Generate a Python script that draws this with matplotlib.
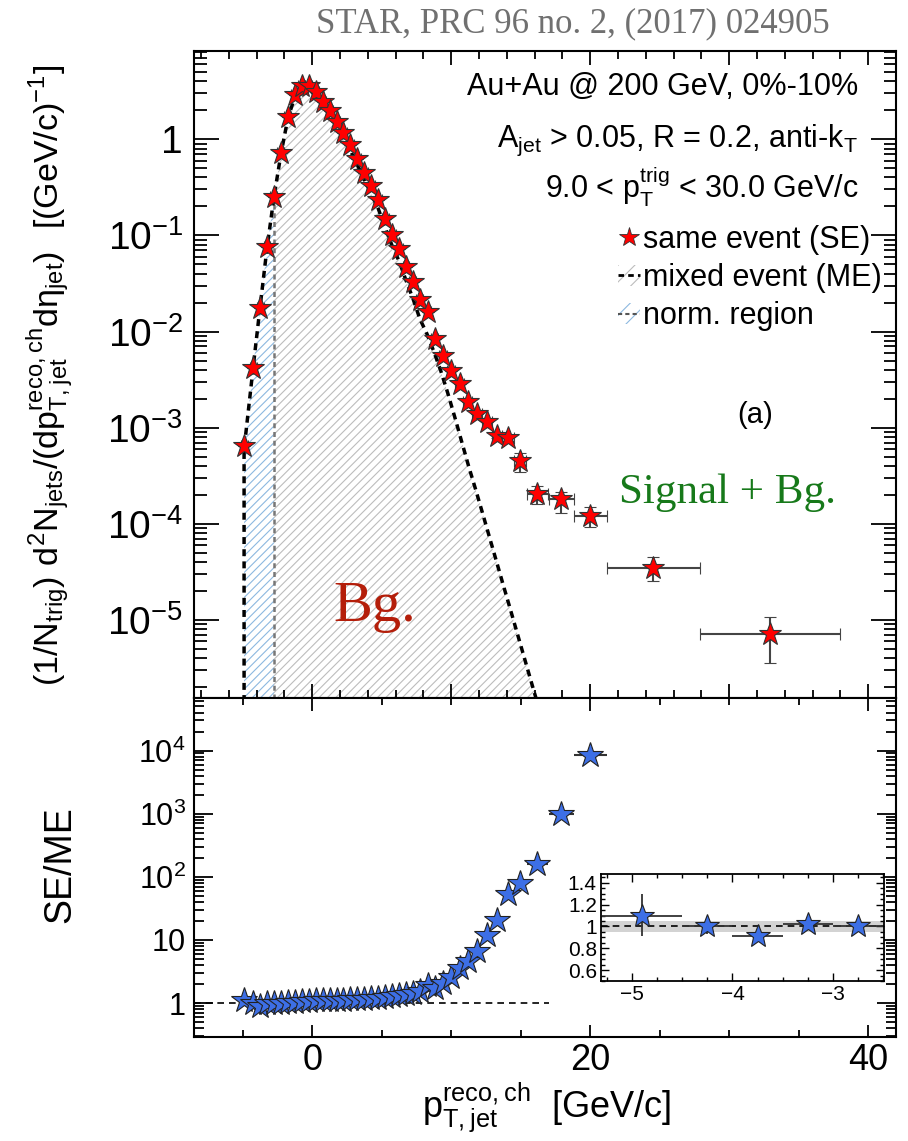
import matplotlib
matplotlib.use("Agg")
import matplotlib.pyplot as plt
import numpy as np
from matplotlib.lines import Line2D
from matplotlib.patches import Patch
from matplotlib.ticker import MultipleLocator, LogLocator, NullFormatter

plt.rcParams['font.family'] = ['Liberation Sans', 'DejaVu Sans']
plt.rcParams['mathtext.default'] = 'regular'
plt.rcParams['hatch.linewidth'] = 0.8

# same event (SE) spectrum
se_x = [-4.9, -4.25, -3.75, -3.25, -2.75, -2.25, -1.75, -1.25, -0.75, -0.25,
        0.25, 0.75, 1.25, 1.75, 2.25, 2.75, 3.25, 3.75, 4.25, 4.75,
        5.25, 5.75, 6.25, 6.75, 7.25, 7.75, 8.3, 8.8, 9.4, 10.0,
        10.6, 11.2, 11.85, 12.55, 13.3, 14.1, 14.95, 16.2, 17.9, 20.0,
        24.55, 32.95]
se_y = [6.5e-4, 4.2e-3, 0.0176, 0.0757, 0.25, 0.72, 1.71, 2.87, 3.56, 3.6,
        3.1, 2.45, 1.97, 1.52, 1.15, 0.866, 0.62, 0.446, 0.324, 0.232,
        0.149, 0.102, 0.073, 0.047, 0.0327, 0.0214, 0.0159, 0.0084, 0.0056, 0.0039,
        0.00285, 0.00184, 0.00139, 0.00114, 8.3e-4, 7.8e-4, 4.5e-4, 2.07e-4, 1.8e-4, 1.21e-4,
        3.5e-5, 7.1e-6]
se_xerr = [0.25, 0.25, 0.25, 0.25, 0.25, 0.25, 0.25, 0.25, 0.25, 0.25,
           0.25, 0.25, 0.25, 0.25, 0.25, 0.25, 0.25, 0.25, 0.25, 0.25,
           0.25, 0.25, 0.25, 0.25, 0.25, 0.25, 0.28, 0.28, 0.3, 0.3,
           0.3, 0.32, 0.33, 0.36, 0.38, 0.42, 0.45, 0.78, 0.9, 1.2,
           3.35, 5.05]
se_ylo = [0, 0, 0, 0, 0, 0, 0, 0, 0, 0,
          0, 0, 0, 0, 0, 0, 0, 0, 0, 0,
          0, 0, 0, 0, 0, 0, 0, 0, 0, 0,
          0, 0, 0, 0, 5e-5, 6e-5, 1.0e-4, 4.7e-5, 4.9e-5, 2.9e-5,
          9.5e-6, 3.55e-6]
se_yhi = [0, 0, 0, 0, 0, 0, 0, 0, 0, 0,
          0, 0, 0, 0, 0, 0, 0, 0, 0, 0,
          0, 0, 0, 0, 0, 0, 0, 0, 0, 0,
          0, 0, 0, 0, 5e-5, 6e-5, 1.0e-4, 4.2e-5, 3.5e-5, 2.9e-5,
          1.03e-5, 3.7e-6]

# mixed event (ME) distribution
me_x = [-4.9, -4.25, -3.75, -3.25, -2.75, -2.25, -1.75, -1.25, -0.75, -0.25,
        0.25, 0.75, 1.25, 1.75, 2.25, 2.75, 3.25, 3.75, 4.25, 4.75,
        5.25, 5.75, 6.25, 6.75, 7.25, 7.75, 8.25, 8.75, 9.25, 9.75,
        10.25, 10.75, 11.25, 11.75, 12.25, 12.75, 13.25, 13.75, 14.25, 14.75,
        15.25, 15.75, 16.25]
me_y = [6.0e-4, 4.2e-3, 0.018, 0.074, 0.25, 0.70, 1.65, 2.75, 3.4, 3.35,
        2.8, 2.25, 1.78, 1.36, 1.02, 0.76, 0.54, 0.38, 0.27, 0.19,
        0.12, 0.078, 0.054, 0.034, 0.022, 0.0135, 0.0095, 0.0062, 0.0039, 0.0023,
        0.0013, 7.2e-4, 4.0e-4, 2.3e-4, 1.3e-4, 7.3e-5, 4.1e-5, 2.3e-5, 1.3e-5, 7.3e-6,
        4.1e-6, 2.3e-6, 1.3e-6]

# SE/ME ratio
ratio_x = se_x[:40]
ratio_y = [1.12, 1.0, 0.9, 1.02, 1.0, 1.02, 1.04, 1.06, 1.07, 1.08,
           1.1, 1.1, 1.12, 1.13, 1.13, 1.15, 1.16, 1.18, 1.2, 1.22,
           1.25, 1.3, 1.35, 1.4, 1.45, 1.55, 1.94, 1.72, 2.06, 2.63,
           3.57, 4.56, 6.75, 12.1, 21.0, 52.7, 81.0, 159.0, 1000.0, 8600.0]
ratio_xerr = se_xerr[:40]

# inset: normalisation region zoom
inset_x = [-4.9, -4.25, -3.75, -3.25, -2.75]
inset_y = [1.1, 1.0, 0.91, 1.02, 1.0]
inset_xerr = [0.4, 0.25, 0.25, 0.25, 0.25]
inset_ylo = [0.19, 0.07, 0.03, 0.04, 0.03]
inset_yhi = [0.2, 0.09, 0.03, 0.04, 0.03]

norm_hi = -2.75
y_floor = 1.55e-6

red = '#ff0000'
blue = '#3d6fe6'
hgray = '#bdbdbd'
hblue = '#8db8e0'
edge = '#333333'
dash = (0, (2.0, 1.5))

fig = plt.figure(figsize=(9.08, 11.41), dpi=100)
ax = fig.add_axes([0.2137, 0.3883, 0.7731, 0.567])
ax2 = fig.add_axes([0.2137, 0.0911, 0.7731, 0.2972])

# ---- top panel ----
mx = np.array(me_x)
my = np.array(me_y)
ax.fill_between(mx, my, 1e-8, where=mx >= norm_hi, facecolor='none',
                edgecolor=hgray, hatch='////', linewidth=0)
ax.fill_between(mx, my, 1e-8, where=mx <= norm_hi, facecolor='none',
                edgecolor=hblue, hatch='////', linewidth=0)
ax.vlines(norm_hi, 1e-8, my[mx == norm_hi][0], colors='#777777',
          linestyles=dash, linewidth=1.8)
ax.plot(np.r_[mx[0], mx], np.r_[1e-8, my], color='black', ls=dash, lw=2.5)

ax.errorbar(se_x, se_y, xerr=se_xerr, yerr=[se_ylo, se_yhi], fmt='*',
            ms=17, mfc=red, mec=edge, mew=0.8, ecolor='#444444',
            elinewidth=1.5, capsize=4, capthick=1.5)

ax.set_yscale('log')
ax.set_xlim(-8.5, 42)
ax.set_ylim(y_floor, 8.26)
ax.set_yticks([1e-5, 1e-4, 1e-3, 1e-2, 1e-1, 1])
ax.set_yticklabels([r'$10^{-5}$', r'$10^{-4}$', r'$10^{-3}$',
                    r'$10^{-2}$', r'$10^{-1}$', '1'], fontsize=28)
ax.yaxis.set_minor_locator(LogLocator(base=10, subs=np.arange(2, 10), numticks=20))
ax.yaxis.set_minor_formatter(NullFormatter())
ax.xaxis.set_major_locator(MultipleLocator(10))
ax.xaxis.set_minor_locator(MultipleLocator(2))
ax.tick_params(axis='x', labelbottom=False)
ax.tick_params(which='both', direction='in', top=True, right=True, width=1.3)
ax.tick_params(axis='y', which='major', length=18, pad=8)
ax.tick_params(axis='y', which='minor', length=9)
ax.tick_params(axis='x', which='major', length=10)
ax.tick_params(axis='x', which='minor', length=6)
for s in ax.spines.values():
    s.set_linewidth(1.5)

ax.set_ylabel(r'$(1/N_{trig})\ d^{2}N_{jets}/(dp_{T,jet}^{reco,ch}d\eta_{jet})\ \ [(GeV/c)^{-1}]$',
              fontsize=24.5)
ax.yaxis.set_label_coords(0.083, 0.6713, transform=fig.transFigure)

fig.text(0.945, 0.9238, 'Au+Au @ 200 GeV, 0%-10%', ha='right', va='center', fontsize=22)
fig.text(0.945, 0.877, r'$A_{jet}$ > 0.05, R = 0.2, anti-$k_{T}$', ha='right', va='center', fontsize=22)
fig.text(0.945, 0.836, r'9.0 < $p_{T}^{trig}$ < 30.0 GeV/c', ha='right', va='center', fontsize=22)

h_se = Line2D([], [], ls='none', marker='*', ms=15, mfc=red, mec=edge, mew=0.6)
h_me = (Patch(facecolor='none', edgecolor=hgray, hatch='//', lw=0),
        Line2D([], [], color='black', ls=dash, lw=2))
h_nr = (Patch(facecolor='none', edgecolor=hblue, hatch='//', lw=0),
        Line2D([], [], color='#555555', ls=dash, lw=1.5))
ax.legend([h_se, h_me, h_nr], ['same event (SE)', 'mixed event (ME)', 'norm. region'],
          loc='upper left', bbox_to_anchor=(0.681, 0.803), bbox_transform=fig.transFigure,
          frameon=False, fontsize=22, handlelength=0.7, handletextpad=0.1,
          labelspacing=0.27, borderpad=0, borderaxespad=0)

fig.text(0.8315, 0.6363, '(a)', ha='center', va='center', fontsize=21)
fig.text(0.8007, 0.5679, 'Signal + Bg.', ha='center', va='center', fontsize=31,
         family='Liberation Serif', color='#17791a')
fig.text(0.413, 0.468, 'Bg.', ha='center', va='center', fontsize=42,
         family='Liberation Serif', color='#b41e0a')
fig.text(0.631, 0.979, 'STAR, PRC 96 no. 2, (2017) 024905', ha='center', va='center',
         fontsize=25, family='Liberation Serif', color='#707070')

# ---- ratio panel ----
ax2.hlines(1, -8.5, 17, colors='black', linestyles=(0, (4, 3)), lw=1.2)
ax2.errorbar(ratio_x, ratio_y, xerr=ratio_xerr, fmt='*', ms=19, mfc=blue,
             mec='#222222', mew=0.8, ecolor='#333333', elinewidth=1.5, capsize=0)
ax2.set_yscale('log')
ax2.set_xlim(-8.5, 42)
ax2.set_ylim(0.29, 6.8e4)
ax2.set_yticks([1, 10, 100, 1000, 10000])
ax2.set_yticklabels(['1', '10', r'$10^{2}$', r'$10^{3}$', r'$10^{4}$'], fontsize=22)
ax2.yaxis.set_minor_locator(LogLocator(base=10, subs=np.arange(2, 10), numticks=20))
ax2.yaxis.set_minor_formatter(NullFormatter())
ax2.xaxis.set_major_locator(MultipleLocator(20))
ax2.xaxis.set_minor_locator(MultipleLocator(5))
ax2.tick_params(which='both', direction='in', top=True, right=True, width=1.3)
ax2.tick_params(axis='y', which='major', length=14, pad=6)
ax2.tick_params(axis='y', which='minor', length=7)
ax2.tick_params(axis='x', which='major', length=9, labelsize=26, pad=4)
ax2.tick_params(axis='x', which='minor', length=5)
for s in ax2.spines.values():
    s.set_linewidth(1.5)
ax2.set_ylabel('SE/ME', fontsize=27)
ax2.yaxis.set_label_coords(0.086, 0.2419, transform=fig.transFigure)
ax2.set_xlabel(r'$p_{T,jet}^{reco,ch}$  [GeV/c]', fontsize=26)
ax2.xaxis.set_label_coords(0.602, 0.053, transform=fig.transFigure)

# ---- inset ----
axi = fig.add_axes([0.6619, 0.1402, 0.3117, 0.0938])
axi.axhspan(0.95, 1.05, color='#d3d3d3', lw=0)
axi.axhline(1, color='black', ls=(0, (4, 3)), lw=1.2)
axi.errorbar(inset_x, inset_y, xerr=inset_xerr, yerr=[inset_ylo, inset_yhi], fmt='*',
             ms=18, mfc=blue, mec='#222222', mew=0.8, ecolor='#333333',
             elinewidth=1.3, capsize=0)
axi.set_xlim(-5.31, -2.49)
axi.set_ylim(0.5, 1.48)
axi.set_xticks([-5, -4, -3])
axi.set_xticklabels(['\u22125', '\u22124', '\u22123'])
axi.xaxis.set_minor_locator(MultipleLocator(0.25))
axi.set_yticks([0.6, 0.8, 1.0, 1.2, 1.4])
axi.set_yticklabels(['0.6', '0.8', '1', '1.2', '1.4'])
axi.yaxis.set_minor_locator(MultipleLocator(0.05))
axi.tick_params(which='both', direction='in', top=True, right=True, width=1.0, labelsize=15)
axi.tick_params(which='major', length=6, pad=3)
axi.tick_params(which='minor', length=3)
for s in axi.spines.values():
    s.set_linewidth(1.3)

fig.savefig('out.png', dpi=100)
